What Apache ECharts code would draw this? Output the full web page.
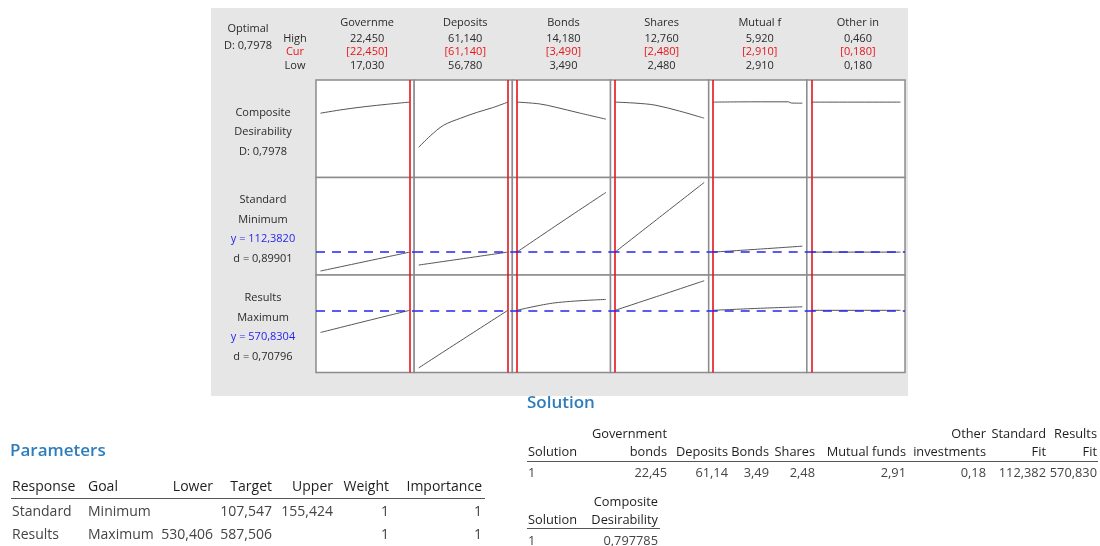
<!DOCTYPE html>
<html>
<head>
<meta charset="utf-8">
<script src="https://cdn.jsdelivr.net/npm/echarts@6/dist/echarts.min.js"></script>
<style>
  html, body { margin: 0; padding: 0; background: #ffffff; }
  #chart { width: 1100px; height: 546px; }
</style>
</head>
<body>
<div id="chart"></div>
<script>
// ---- Factors (columns of the optimization plot) ----
const factorNames = ['Governme', 'Deposits', 'Bonds', 'Shares', 'Mutual f', 'Other in'];
const factorHigh = [22.45, 61.14, 14.18, 12.76, 5.92, 0.46];
const factorLow = [17.03, 56.78, 3.49, 2.48, 2.91, 0.18];
const factorCur = [22.45, 61.14, 3.49, 2.48, 2.91, 0.18];

// ---- Composite desirability and responses (rows) ----
const compositeD = 0.7978;
const responseNames = ['Standard', 'Results'];
const responseGoals = ['Minimum', 'Maximum'];
const responseFit = [112.3820, 570.8304];
const responseD = [0.89901, 0.70796];

// ---- Traces: [factor value, predicted value] for each factor ----
const desirabilityTrace = [
  [[17.03, 0.674], [18.4, 0.715], [19.74, 0.747], [21.1, 0.774], [22.45, 0.7978]],
  [[56.78, 0.292], [57.35, 0.421], [58.0, 0.539], [58.83, 0.618], [59.66, 0.685], [60.4, 0.736], [61.14, 0.7978]],
  [[3.49, 0.7978], [6.2, 0.778], [8.08, 0.742], [11.0, 0.676], [14.18, 0.607]],
  [[2.48, 0.7978], [4.9, 0.786], [7.1, 0.764], [9.9, 0.698], [12.76, 0.618]],
  [[2.91, 0.7978], [4.2, 0.801], [5.45, 0.801], [5.55, 0.787], [5.92, 0.786]],
  [[0.18, 0.7978], [0.46, 0.7978]]
];
const standardTrace = [
  [[17.03, 107.63], [19.74, 110.0], [22.45, 112.382]],
  [[56.78, 109.13], [58.96, 110.75], [61.14, 112.382]],
  [[3.49, 112.382], [8.8, 119.9], [14.18, 127.4]],
  [[2.48, 112.382], [7.6, 121.1], [12.76, 129.88]],
  [[2.91, 112.382], [4.4, 113.1], [5.92, 113.88]],
  [[0.18, 112.382], [0.46, 112.382]]
];
const resultsTrace = [
  [[17.03, 559.7], [19.74, 565.3], [22.45, 570.83]],
  [[56.78, 541.9], [58.96, 556.4], [61.14, 570.83]],
  [[3.49, 570.83], [8.08, 574.6], [14.18, 576.3]],
  [[2.48, 570.83], [7.6, 578.2], [12.76, 585.7]],
  [[2.91, 570.83], [4.4, 571.8], [5.92, 572.6]],
  [[0.18, 570.83], [0.46, 570.83]]
];
const rowTraces = [desirabilityTrace, standardTrace, resultsTrace];
// vertical scale of each row
const rowYMin = [-0.045, 106.63, 539.58];
const rowYMax = [1.045, 131.13, 588.58];

// ---- Tables ----
const paramHeader = ['Response', 'Goal', 'Lower', 'Target', 'Upper', 'Weight', 'Importance'];
const paramRows = [
  ['Standard', 'Minimum', '', '107,547', '155,424', '1', '1'],
  ['Results', 'Maximum', '530,406', '587,506', '', '1', '1']
];
const solHeaderTop = ['', 'Government', '', '', '', '', 'Other', 'Standard', 'Results'];
const solHeaderBottom = ['Solution', 'bonds', 'Deposits', 'Bonds', 'Shares', 'Mutual funds', 'investments', 'Fit', 'Fit'];
const solRow = ['1', '22,45', '61,14', '3,49', '2,48', '2,91', '0,18', '112,382', '570,830'];
const compHeaderTop = ['', 'Composite'];
const compHeaderBottom = ['Solution', 'Desirability'];
const compRow = ['1', '0,797785'];

// ---- Layout ----
const FONT = '"Open Sans", "Noto Sans", sans-serif';
const TXT = '#2a2a2a';
const RED = '#e8141b';
const BLUE = '#2424f2';
const HEAD = '#2d7dbd';
const colLeft0 = 316, colW = 98.17;
const rowTop = [80, 177.5, 275], rowH = [97.5, 97.5, 97.5];
const padFrac = 0.0505;

const fmt3 = v => v.toFixed(3).replace('.', ',');
const fmt4 = v => v.toFixed(4).replace('.', ',');

const grids = [], xAxes = [], yAxes = [], series = [];
for (let r = 0; r < 3; r++) {
  for (let c = 0; c < 6; c++) {
    const idx = r * 6 + c;
    grids.push({
      left: colLeft0 + c * colW, top: rowTop[r], width: colW, height: rowH[r],
      show: true, backgroundColor: '#ffffff', borderColor: '#8c8c8c', borderWidth: 1.5,
      containLabel: false, outerBoundsMode: 'none'
    });
    const span = factorHigh[c] - factorLow[c];
    xAxes.push({
      type: 'value', gridIndex: idx,
      min: factorLow[c] - padFrac * span, max: factorHigh[c] + padFrac * span,
      show: false, splitLine: { show: false }
    });
    yAxes.push({
      type: 'value', gridIndex: idx, min: rowYMin[r], max: rowYMax[r],
      show: false, splitLine: { show: false }
    });
    const mlData = [{ xAxis: factorCur[c], lineStyle: { color: RED, width: 1.6, type: 'solid' } }];
    if (r > 0) {
      mlData.push({ yAxis: responseFit[r - 1], lineStyle: { color: BLUE, width: 1.5, type: [9, 7] } });
    }
    series.push({
      type: 'line', xAxisIndex: idx, yAxisIndex: idx,
      data: rowTraces[r][c], showSymbol: false, smooth: 0.35,
      lineStyle: { color: '#555555', width: 1 },
      animation: false, silent: true,
      markLine: {
        silent: true, animation: false, symbol: ['none', 'none'],
        label: { show: false }, data: mlData
      }
    });
  }
}

// ---- Text and decorations ----
const g = [];
function txt(text, x, y, opts) {
  opts = opts || {};
  const align = opts.align || 'center';
  g.push({
    type: 'text', silent: true, z: 10,
    style: {
      text: text, x: x, y: y,
      font: (opts.weight || 'normal') + ' ' + (opts.size || 11) + 'px ' + FONT,
      fill: opts.color || TXT,
      align: align, textAlign: align,
      verticalAlign: 'middle', textVerticalAlign: 'middle'
    }
  });
}
function hline(x1, x2, y, color, w) {
  g.push({ type: 'line', silent: true, z: 10, shape: { x1: x1, y1: y, x2: x2, y2: y }, style: { stroke: color, lineWidth: w } });
}

// gray plot panel
g.push({ type: 'rect', silent: true, z: -10, shape: { x: 211, y: 8, width: 697, height: 388 }, style: { fill: '#e6e6e6' } });

// top-left header
txt('Optimal', 248, 29);
txt('D: ' + fmt4(compositeD), 248, 46);
txt('High', 295, 38.5);
txt('Cur', 295, 52, { color: RED });
txt('Low', 295, 66);

// factor column headers
for (let c = 0; c < 6; c++) {
  const cx = colLeft0 + c * colW + colW / 2 + 2;
  txt(factorNames[c], cx, 23);
  txt(fmt3(factorHigh[c]), cx, 38.5);
  txt('[' + fmt3(factorCur[c]) + ']', cx, 52, { color: RED });
  txt(fmt3(factorLow[c]), cx, 66);
}

// row labels
txt('Composite', 263, 113);
txt('Desirability', 263, 132);
txt('D: ' + fmt4(compositeD), 263, 152);
const respLabelTop = [200, 298];
for (let i = 0; i < 2; i++) {
  const y0 = respLabelTop[i];
  txt(responseNames[i], 263, y0);
  txt(responseGoals[i], 263, y0 + 19.5);
  txt('y = ' + fmt4(responseFit[i]), 263, y0 + 39, { color: BLUE });
  txt('d = ' + responseD[i].toFixed(5).replace('.', ','), 263, y0 + 58.5);
}

// Parameters table
txt('Parameters', 10, 451, { align: 'left', size: 17, weight: 600, color: HEAD });
const pX = [12, 88, 213, 272, 333, 389, 482];
const pAlign = ['left', 'left', 'right', 'right', 'right', 'right', 'right'];
for (let k = 0; k < paramHeader.length; k++) {
  txt(paramHeader[k], pX[k], 487, { align: pAlign[k], size: 14, color: '#1e1e1e' });
}
hline(11, 485, 498.5, '#555555', 1.2);
for (let rr = 0; rr < paramRows.length; rr++) {
  for (let k = 0; k < paramRows[rr].length; k++) {
    if (paramRows[rr][k]) txt(paramRows[rr][k], pX[k], 512 + rr * 23, { align: pAlign[k], size: 14, color: '#444444' });
  }
}

// Solution table
txt('Solution', 527, 403, { align: 'left', size: 17, weight: 600, color: HEAD });
const sX = [528, 667, 728, 769, 815, 906, 986, 1046, 1097];
const sAlign = ['left', 'right', 'right', 'right', 'right', 'right', 'right', 'right', 'right'];
for (let k = 0; k < solHeaderBottom.length; k++) {
  if (solHeaderTop[k]) txt(solHeaderTop[k], sX[k], 434, { align: sAlign[k], size: 12.8, color: '#1e1e1e' });
  txt(solHeaderBottom[k], sX[k], 452, { align: sAlign[k], size: 12.8, color: '#1e1e1e' });
  txt(solRow[k], sX[k], 473, { align: sAlign[k], size: 12.8, color: '#444444' });
}
hline(527, 1098, 461.5, '#555555', 1.2);
const cX = [528, 658];
const cAlign = ['left', 'right'];
for (let k = 0; k < 2; k++) {
  if (compHeaderTop[k]) txt(compHeaderTop[k], cX[k], 502, { align: cAlign[k], size: 12.8, color: '#1e1e1e' });
  txt(compHeaderBottom[k], cX[k], 520, { align: cAlign[k], size: 12.8, color: '#1e1e1e' });
  txt(compRow[k], cX[k], 541, { align: cAlign[k], size: 12.8, color: '#444444' });
}
hline(527, 660, 528.5, '#555555', 1.2);

const chart = echarts.init(document.getElementById('chart'), null, { renderer: 'canvas' });
chart.setOption({
  backgroundColor: '#ffffff',
  animation: false,
  grid: grids,
  xAxis: xAxes,
  yAxis: yAxes,
  series: series,
  graphic: { elements: g }
});
</script>
</body>
</html>
